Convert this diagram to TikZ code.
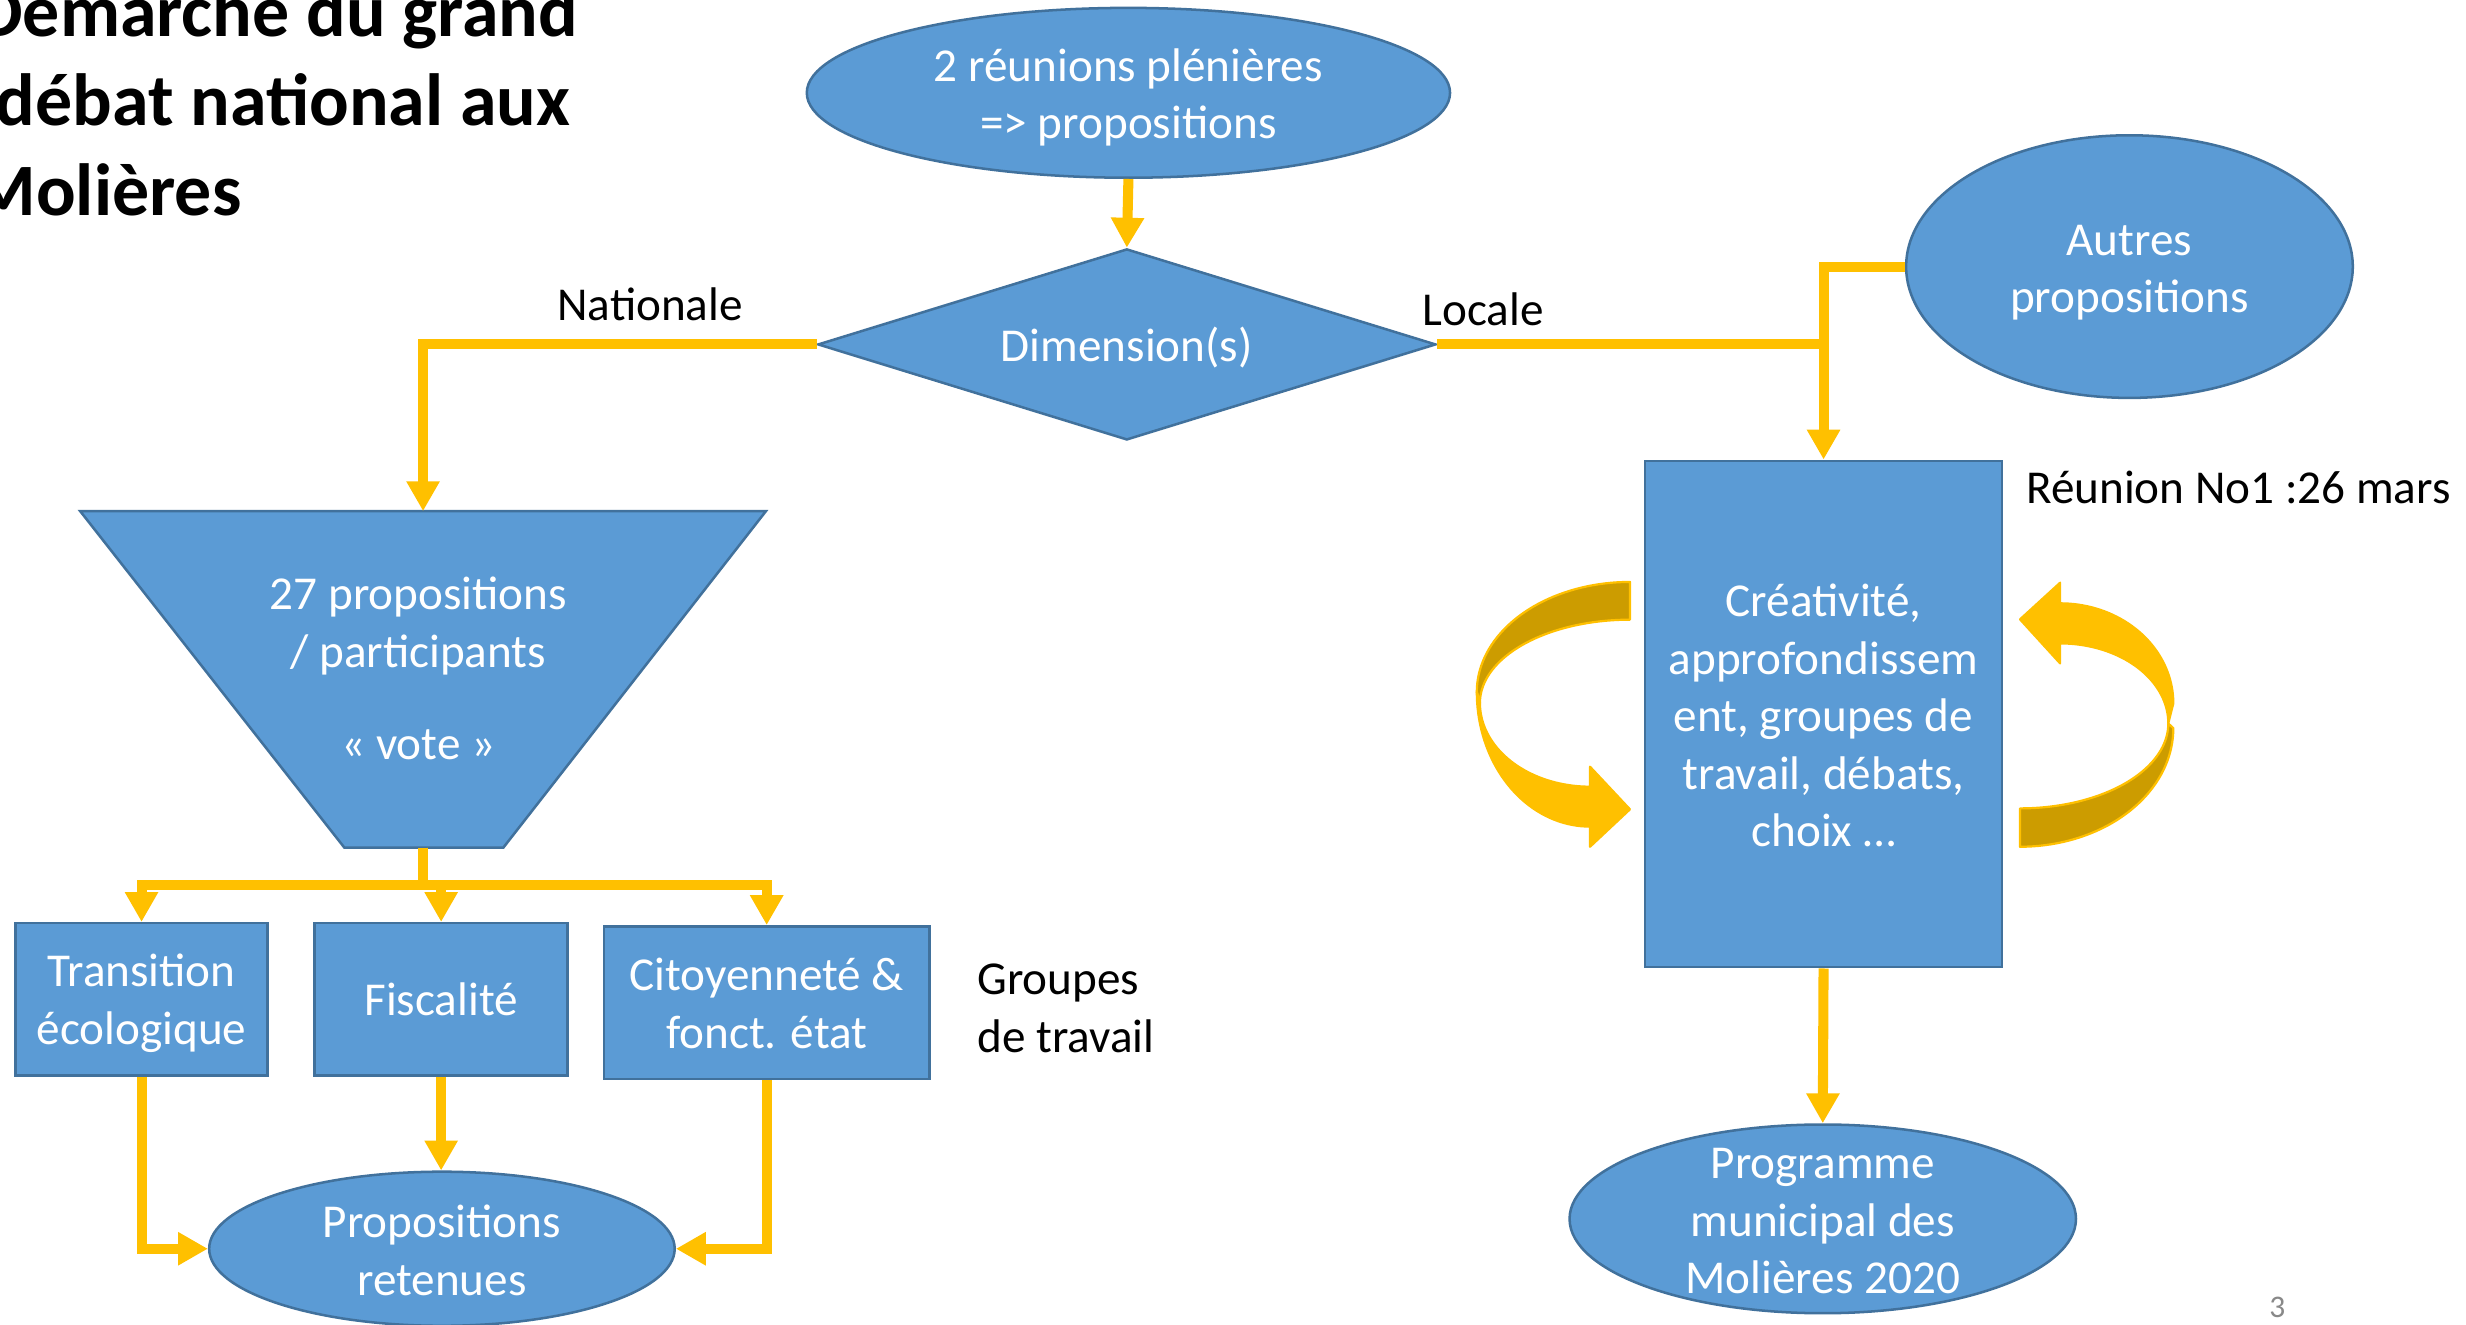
\documentclass[tikz,border=0pt]{standalone}
\usepackage{fontspec}
\setmainfont{Carlito}
\usetikzlibrary{arrows.meta,shapes.geometric,calc}
\definecolor{shapeblue}{HTML}{5B9BD5}
\definecolor{shapeedge}{HTML}{41719C}
\definecolor{arrowgold}{HTML}{FFC000}
\definecolor{darkgold}{HTML}{CC9C00}
\definecolor{pagegray}{HTML}{898989}
\begin{document}
\begin{tikzpicture}[x=0.5pt,y=-0.5pt,
  shapebox/.style={fill=shapeblue,draw=shapeedge,line width=0.8pt,inner sep=0pt},
  oval/.style={shapebox,ellipse},
  rectbox/.style={shapebox,rectangle},
  shapetext/.style={text=white,font=\fontsize{15}{18.3}\selectfont,align=center,inner sep=0pt},
  conn/.style={draw=arrowgold,line width=3.2pt,-{Triangle[width=10pt,length=9.5pt]}},
  connline/.style={draw=arrowgold,line width=3.2pt},
  plainlabel/.style={text=black,font=\fontsize{15}{18.3}\selectfont,inner sep=0pt},
  titletext/.style={text=black,font=\bfseries\fontsize{23.5}{28.5}\selectfont,inner sep=0pt},
  curvedark/.style={fill=darkgold,draw=arrowgold,line width=0.7pt,line join=round},
  curvebright/.style={fill=arrowgold,draw=arrowgold,line width=0.7pt,line join=round},
]
\useasboundingbox[fill=white] (0,0) rectangle (1568,842);

% title
\node[titletext,anchor=base east] (title1) at (368,23) {Démarche du grand};
\node[titletext,anchor=base west] (title2) at (-3,80) {débat national aux};
\node[titletext,anchor=base east] (title3) at (154,137) {Molières};

% shapes
\node[oval,minimum width=204.5pt,minimum height=54pt] (top) at (717.5,59) {};
\node[shapetext] (toptext) at ($(top.center)+(0,3)$) {2 réunions plénières\\=> propositions};
\node[shapebox,diamond,shape aspect=3.234,minimum width=196.5pt,minimum height=60.75pt] (dia) at (716.5,219) {};
\node[shapetext] (diatext) at ($(dia.center)+(0,2)$) {Dimension(s)};
\node[oval,minimum width=142pt,minimum height=83.5pt] (autres) at (1354,169.5) {};
\node[shapetext] (autrestext) at ($(autres.center)+(0,4)$) {Autres\\propositions};
\coordinate (trapTop) at (269,325);
\coordinate (trapBot) at (269,539);
\path[shapebox] (51,325) -- (487,325) -- (320,539) -- (219,539) -- cycle;
\node[shapetext] (traptext) at (266,425) {27 propositions\\/ participants\\[11pt]« vote »};
\node[rectbox,minimum width=80pt,minimum height=48.5pt] (b1) at (90,635.5) {};
\node[shapetext] (b1text) at ($(b1.center)+(0,2.5)$) {Transition\\écologique};
\node[rectbox,minimum width=80.5pt,minimum height=48.5pt] (b2) at (280.5,635.5) {};
\node[shapetext] (b2text) at (b2.center) {Fiscalité};
\node[rectbox,minimum width=103.5pt,minimum height=48.5pt] (b3) at (487.5,637.5) {};
\node[shapetext] (b3text) at ($(b3.center)+(0,0.5)$) {Citoyenneté \&\\fonct. état};
\node[oval,minimum width=148pt,minimum height=49pt] (prop) at (281,794) {};
\node[shapetext] (proptext) at ($(prop.center)+(0,1)$) {Propositions\\retenues};
\node[rectbox,minimum width=113.5pt,minimum height=161pt] (rect) at (1159.5,454) {};
\node[shapetext] (recttext) at ($(rect.center)+(0,1)$) {Créativité,\\approfondissem\\ent, groupes de\\travail, débats,\\choix …};
\node[oval,minimum width=161pt,minimum height=60pt] (prog) at (1159,775) {};
\node[shapetext] (progtext) at ($(prog.center)+(0,1.5)$) {Programme\\municipal des\\Molières 2020};

% labels
\node[plainlabel,anchor=base west] (nat) at (354,204) {Nationale};
\node[plainlabel,anchor=base west] (loc) at (904,207) {Locale};
\node[plainlabel,anchor=base west] (reunion) at (1288,320) {Réunion No1 :26 mars};
\node[plainlabel,anchor=west,align=left] (groupes) at (621,641) {Groupes\\de travail};
\node[text=pagegray,font=\fontsize{10}{12}\selectfont,inner sep=0pt] (pagenum) at (1448,831) {3};

% connectors
\draw[conn] (top.south) -- (dia.north);
\draw[conn] (dia.west) -| (trapTop);
\draw[conn] (dia.east) -| (rect.north);
\coordinate (join) at (rect.north |- dia.east);
\draw[connline] (autres.west) -| (join);
\coordinate (bar) at (269,563);
\draw[conn] (trapBot) -- (bar) -| (b1.north);
\draw[conn] (trapBot) -- (bar) -| (b2.north);
\draw[conn] (trapBot) -- (bar) -| (b3.north);
\draw[conn] (b1.south) |- (prop.west);
\draw[conn] (b2.south) -- (b2.south |- prop.north);
\draw[conn] (b3.south) |- (prop.east);
\draw[conn] (rect.south) -- (prog.north);

% curved arrows (left)
\path[curvedark] (941,447)
  -- plot[variable=\t,domain=0:90,samples=40] ({1036.4-95.4*cos(\t)},{447-53*sin(\t)})
  -- (1036.4,370)
  -- plot[variable=\t,domain=0:90,samples=40] ({1036.4-97.4*sin(\t)},{440-70*cos(\t)})
  -- cycle;
\path[curvebright] (939,440)
  -- plot[variable=\t,domain=0:90,samples=40] ({1011-72*cos(\t)},{440+85.6*sin(\t)})
  -- (1011,538.4) -- (1036.4,514.6) -- (1011,487.5) -- (1011,500.2)
  -- plot[variable=\t,domain=0:90,samples=40] ({1011-70*sin(\t)},{447+53.2*cos(\t)})
  -- cycle;
% curved arrows (right)
\path[curvebright] (1381.9,447.2)
  -- plot[variable=\t,domain=0:90,samples=40] ({1309.9+72*cos(\t)},{447.2-63.6*sin(\t)})
  -- (1309.9,370.5) -- (1284.4,393.8) -- (1309.9,421.8) -- (1309.9,409.1)
  -- plot[variable=\t,domain=0:90,samples=40] ({1309.9+68.8*sin(\t)},{459.9-50.8*cos(\t)})
  -- cycle;
\path[curvedark] (1378.7,460)
  -- plot[variable=\t,domain=0:90,samples=40] ({1284.4+94.3*cos(\t)},{460+54*sin(\t)})
  -- (1284.4,538.4)
  -- plot[variable=\t,domain=0:90,samples=40] ({1284.4+97.5*sin(\t)},{463+75.4*cos(\t)})
  -- cycle;
\end{tikzpicture}
\end{document}
